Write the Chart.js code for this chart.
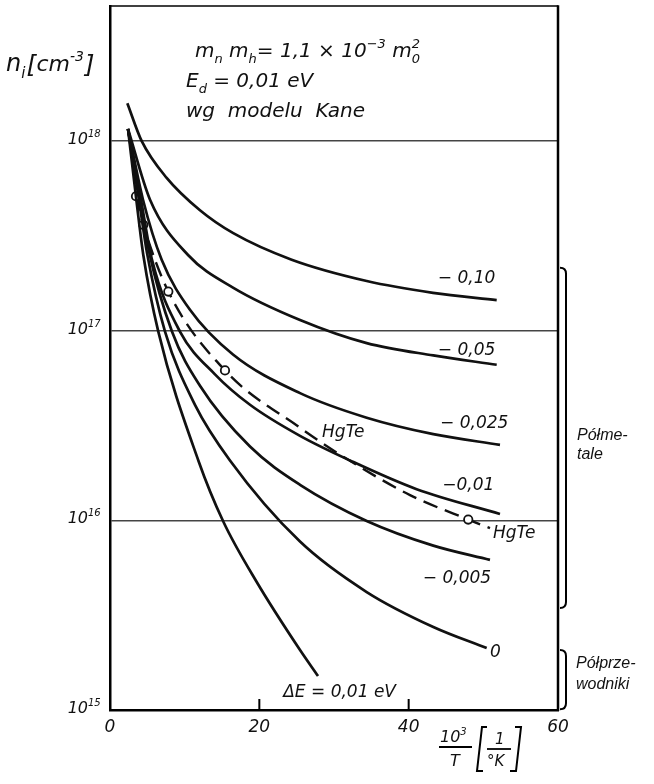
<!DOCTYPE html>
<html>
<head>
<meta charset="utf-8">
<script src="https://cdn.jsdelivr.net/npm/chart.js@4.4.0/dist/chart.umd.min.js"></script>
<style>
  html, body { margin: 0; padding: 0; background: #fff; }
</style>
</head>
<body>
<canvas id="myChart" width="654" height="784"></canvas>
<script>
// values: x = 10^3/T [1/K], y = n_i [cm^-3]
var xTicks = [0, 20, 40, 60];
var yTicks = [1e15, 1e16, 1e17, 1e18];

var xM010 = [2.32, 4.25, 7.59, 12.05, 16.51, 24.33, 34.38, 43.26, 51.79];
var nM010 = [1.585e18, 1.0e18, 6.40e17, 4.32e17, 3.27e17, 2.37e17, 1.83e17, 1.585e17, 1.45e17];

var xM005 = [2.41, 5.36, 10.45, 16.47, 25.45, 34.38, 43.3, 51.79];
var nM005 = [1.16e18, 4.91e17, 2.51e17, 1.69e17, 1.14e17, 8.61e16, 7.41e16, 6.62e16];

var xM0025 = [2.41, 4.42, 6.92, 10.71, 16.47, 25.45, 34.38, 43.3, 52.23];
var nM0025 = [1.16e18, 4.91e17, 2.37e17, 1.29e17, 7.50e16, 4.69e16, 3.48e16, 2.85e16, 2.50e16];

var xM001 = [2.41, 4.15, 5.62, 9.37, 14.06, 18.75, 25.45, 32.14, 41.07, 52.23];
var nM001 = [1.16e18, 4.91e17, 2.37e17, 9.9e16, 5.89e16, 4.07e16, 2.79e16, 2.07e16, 1.46e16, 1.08e16];

var xM0005 = [2.41, 4.02, 5.22, 8.3, 12.05, 18.75, 25.45, 34.38, 43.3, 50.89];
var nM0005 = [1.16e18, 4.91e17, 2.63e17, 9.9e16, 5.13e16, 2.45e16, 1.54e16, 9.93e15, 7.36e15, 6.19e15];

var xZero = [2.41, 3.88, 4.96, 7.37, 11.38, 16.07, 25.45, 34.38, 43.3, 50.45];
var nZero = [1.16e18, 4.91e17, 2.57e17, 9.9e16, 4.07e16, 2.07e16, 7.73e15, 4.19e15, 2.74e15, 2.12e15];

var xP001 = [2.41, 3.62, 4.46, 6.47, 11.83, 15.17, 19.65, 25.45, 27.86];
var nP001 = [1.16e18, 4.57e17, 2.51e17, 9.9e16, 2.07e16, 9.86e15, 4.73e15, 2.07e15, 1.51e15];

// HgTe dashed curve, open circles are the measured points
var xHgTe = [3.48, 4.46, 7.81, 15.4, 25.45, 31.47, 40.18, 47.98, 50.89];
var nHgTe = [5.12e17, 3.62e17, 1.61e17, 6.18e16, 3.08e16, 2.14e16, 1.36e16, 1.01e16, 9.1e15];
var hgteMeasured = [true, true, true, true, false, false, false, true, false];

var SANS = '"DejaVu Sans", "Liberation Sans", sans-serif';
var NARROW = '"Liberation Sans", "DejaVu Sans", sans-serif';
function fnt(size, fam) { return 'italic ' + size + 'px ' + (fam || SANS); }

function pts(xs, ys) {
  return xs.map(function (x, i) { return { x: x, y: ys[i] }; });
}

function curve(xs, ys) {
  return {
    data: pts(xs, ys),
    borderColor: '#111',
    borderWidth: 2.7,
    pointRadius: 0,
    cubicInterpolationMode: 'monotone',
    fill: false
  };
}

var datasets = [
  curve(xM010, nM010),
  curve(xM005, nM005),
  curve(xM0025, nM0025),
  curve(xM001, nM001),
  curve(xM0005, nM0005),
  curve(xZero, nZero),
  curve(xP001, nP001),
  {
    data: pts(xHgTe, nHgTe),
    borderColor: '#111',
    borderWidth: 2.4,
    borderDash: [15, 8],
    cubicInterpolationMode: 'monotone',
    pointRadius: hgteMeasured.map(function (m) { return m ? 4.2 : 0; }),
    pointBackgroundColor: '#fff',
    pointBorderColor: '#111',
    pointBorderWidth: 1.8,
    fill: false
  }
];

// curve labels: text, x, y (left edge / baseline anchor in data units)
var curveLabels = [
  ['\u2212 0,10', 43.9, 1.79e17],
  ['\u2212 0,05', 43.9, 7.46e16],
  ['\u2212 0,025', 44.2, 3.08e16],
  ['\u22120,01', 44.5, 1.45e16],
  ['HgTe', 51.3, 8.09e15],
  ['HgTe', 28.4, 2.76e16],
  ['\u2212 0,005', 41.9, 4.68e15],
  ['0', 50.9, 1.91e15],
  ['\u0394E = 0,01 eV', 23.2, 1.17e15]
];

// draws a line of text with sub ('b') and super ('p') parts
function rich(ctx, x, y, parts, size) {
  var cx = x;
  parts.forEach(function (p) {
    var s = p[1] ? Math.round(size * 0.64) : size;
    ctx.font = fnt(s);
    var dy = p[1] === 'b' ? size * 0.28 : (p[1] === 'p' ? -size * 0.45 : 0);
    ctx.fillText(p[0], cx, y + dy);
    cx += ctx.measureText(p[0]).width;
  });
  return cx;
}

function bracket(ctx, x, y1, y2) {
  ctx.beginPath();
  ctx.moveTo(x - 6, y1);
  ctx.quadraticCurveTo(x, y1, x, y1 + 6);
  ctx.lineTo(x, y2 - 6);
  ctx.quadraticCurveTo(x, y2, x - 6, y2);
  ctx.stroke();
}

var decor = {
  id: 'decor',
  afterDraw: function (chart) {
    var ctx = chart.ctx;
    var a = chart.chartArea;
    var xs = chart.scales.x, ys = chart.scales.y;
    ctx.save();
    ctx.strokeStyle = '#000';
    ctx.fillStyle = '#111';

    // frame top + right
    ctx.lineWidth = 1.6;
    ctx.beginPath(); ctx.moveTo(a.left, a.top); ctx.lineTo(a.right, a.top); ctx.stroke();
    ctx.lineWidth = 2.5;
    ctx.beginPath(); ctx.moveTo(a.right, a.top - 0.8); ctx.lineTo(a.right, a.bottom + 1); ctx.stroke();

    // inward x ticks
    ctx.lineWidth = 2;
    [20, 40].forEach(function (v) {
      var px = xs.getPixelForValue(v);
      ctx.beginPath(); ctx.moveTo(px, a.bottom); ctx.lineTo(px, a.bottom - 11); ctx.stroke();
    });

    // y tick labels 10^n
    ctx.textBaseline = 'alphabetic';
    ctx.textAlign = 'left';
    yTicks.forEach(function (v) {
      var py = ys.getPixelForValue(v);
      var e = String(Math.round(Math.log10(v)));
      ctx.font = fnt(16);
      var w1 = ctx.measureText('10').width;
      ctx.font = fnt(11);
      var w2 = ctx.measureText(e).width;
      rich(ctx, a.left - 8 - w1 - w2, py + 3, [['10', ''], [e, 'p']], 16);
    });

    // y axis title
    var cx = rich(ctx, 6, 71, [['n', ''], ['i', 'b']], 24);
    ctx.font = fnt(25);
    ctx.fillText('[', cx + 1, 73);
    cx = rich(ctx, cx + 11, 71, [['cm', ''], ['-3', 'p']], 22);
    ctx.font = fnt(25);
    ctx.fillText(']', cx + 1, 73);

    // x axis title: 10^3 / T [1 / °K]
    ctx.lineWidth = 1.8;
    rich(ctx, 440, 742, [['10', ''], ['3', 'p']], 16);
    ctx.beginPath(); ctx.moveTo(439, 747); ctx.lineTo(472, 747); ctx.stroke();
    ctx.font = fnt(16);
    ctx.fillText('T', 450, 766);
    ctx.lineWidth = 2;
    ctx.beginPath();
    ctx.moveTo(487, 727); ctx.lineTo(482, 727); ctx.lineTo(477, 771); ctx.lineTo(483, 771);
    ctx.moveTo(515, 727); ctx.lineTo(521, 727); ctx.lineTo(516, 771); ctx.lineTo(510, 771);
    ctx.stroke();
    ctx.font = fnt(15);
    ctx.fillText('1', 495, 744);
    ctx.lineWidth = 1.8;
    ctx.beginPath(); ctx.moveTo(487, 749); ctx.lineTo(511, 749); ctx.stroke();
    ctx.fillText('\u00b0K', 487, 766);

    // model annotation
    var x1 = rich(ctx, 195, 57, [['m', ''], ['n', 'b'], [' m', ''], ['h', 'b'], ['= 1,1 \u00d7 10', ''], ['\u22123', 'p'], [' m', '']], 20);
    ctx.font = fnt(13);
    ctx.fillText('0', x1, 57 + 6);
    ctx.fillText('2', x1, 57 - 9);
    rich(ctx, 186, 87, [['E', ''], ['d', 'b'], [' = 0,01 eV', '']], 20);
    rich(ctx, 186, 117, [['wg  modelu  Kane', '']], 20);

    // curve labels
    ctx.font = fnt(17);
    curveLabels.forEach(function (l) {
      ctx.fillText(l[0], xs.getPixelForValue(l[1]), ys.getPixelForValue(l[2]));
    });

    // brackets on the right
    ctx.lineWidth = 2;
    var bx = a.right + 8;
    bracket(ctx, bx, ys.getPixelForValue(2.15e17), ys.getPixelForValue(3.45e15));
    bracket(ctx, bx, ys.getPixelForValue(2.07e15), ys.getPixelForValue(1.01e15));
    ctx.font = fnt(16, NARROW);
    ctx.fillText('P\u00f3\u0142me-', 577, 440);
    ctx.fillText('tale', 577, 459);
    ctx.fillText('P\u00f3\u0142prze-', 576, 668);
    ctx.fillText('wodniki', 576, 689);

    ctx.restore();
  }
};

var ctx = document.getElementById('myChart');
new Chart(ctx, {
  type: 'line',
  data: { datasets: datasets },
  options: {
    responsive: false,
    animation: false,
    layout: { padding: { top: 6, right: 96, bottom: 0, left: 0 } },
    plugins: { legend: { display: false }, tooltip: { enabled: false } },
    scales: {
      x: {
        type: 'linear',
        min: 0,
        max: 60,
        afterBuildTicks: function (s) { s.ticks = xTicks.map(function (v) { return { value: v }; }); },
        afterFit: function (s) { s.height = 74; },
        ticks: { font: { family: SANS, size: 17, style: 'italic' }, color: '#111', padding: 7, maxRotation: 0 },
        grid: { display: false, drawTicks: false },
        border: { color: '#000', width: 2.5 }
      },
      y: {
        type: 'logarithmic',
        min: 1e15,
        max: 5.16e18,
        afterBuildTicks: function (s) { s.ticks = yTicks.map(function (v) { return { value: v }; }); },
        afterFit: function (s) { s.width = 110; },
        ticks: { display: false },
        grid: { color: '#444', lineWidth: 1.5, drawTicks: false },
        border: { color: '#000', width: 2.5 }
      }
    }
  },
  plugins: [decor]
});
</script>
</body>
</html>
